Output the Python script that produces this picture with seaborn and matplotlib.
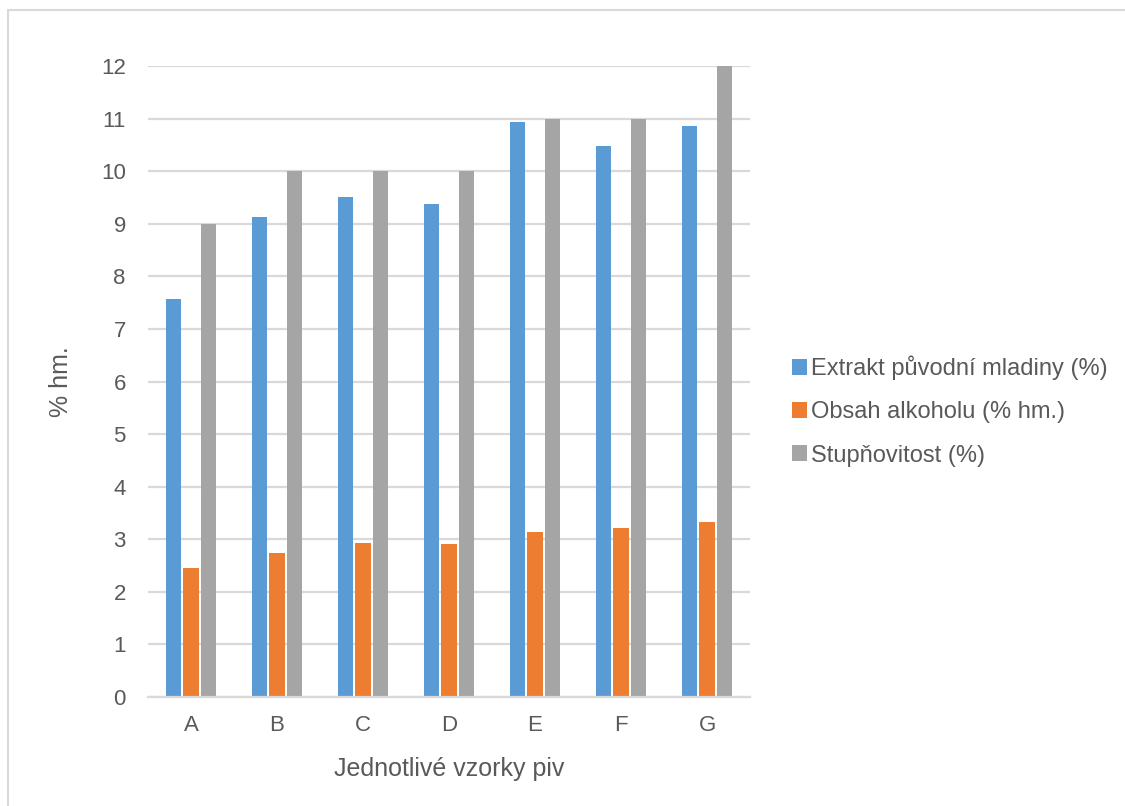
import numpy as np
import pandas as pd
import matplotlib
matplotlib.use("Agg")
import matplotlib.pyplot as plt
from matplotlib.patches import Patch
from matplotlib.lines import Line2D
import seaborn as sns

# Samples and measured values
samples = ["A", "B", "C", "D", "E", "F", "G"]
extrakt = [7.57, 9.13, 9.51, 9.38, 10.94, 10.48, 10.86]
alkohol = [2.46, 2.74, 2.93, 2.91, 3.14, 3.22, 3.32]
stupnovitost = [9, 10, 10, 10, 11, 11, 12]

series_names = ["Extrakt původní mladiny (%)", "Obsah alkoholu (% hm.)", "Stupňovitost (%)"]
colors = ["#5B9BD5", "#ED7D31", "#A5A5A5"]
y_ticks = list(range(0, 13))

df = pd.DataFrame({
    "vzorek": samples * 3,
    "hodnota": extrakt + alkohol + stupnovitost,
    "serie": [series_names[0]] * 7 + [series_names[1]] * 7 + [series_names[2]] * 7,
})

sns.set_theme(style="white")
plt.rcParams["font.family"] = ["Liberation Sans", "DejaVu Sans"]
text_color = "#595959"
grid_color = "#D9D9D9"

W, H = 1125, 806
fig = plt.figure(figsize=(W / 100, H / 100), dpi=100)
ax = fig.add_axes([148 / W, 1 - 697 / H, (750 - 148) / W, (697 - 66) / H])

sns.barplot(
    data=df, x="vzorek", y="hodnota", hue="serie",
    order=samples, hue_order=series_names, palette=colors,
    saturation=1, width=0.616, gap=0.15, linewidth=0,
    errorbar=None, legend=False, ax=ax,
)

ax.set_ylim(0, 12)
ax.set_xlim(-0.5, len(samples) - 0.5)
ax.set_yticks(y_ticks)
ax.set_yticklabels([str(t) for t in y_ticks])
ax.yaxis.grid(True, color=grid_color, linewidth=1.6)
ax.xaxis.grid(False)
ax.set_axisbelow(True)
for side in ["top", "right", "left"]:
    ax.spines[side].set_visible(False)
ax.spines["bottom"].set_color(grid_color)
ax.spines["bottom"].set_linewidth(1.6)
ax.tick_params(axis="both", length=0, colors=text_color, labelsize=16)
ax.tick_params(axis="y", pad=16)
ax.tick_params(axis="x", pad=13)

ax.set_xlabel("Jednotlivé vzorky piv", fontsize=18, color=text_color, labelpad=15)
ax.set_ylabel("% hm.", fontsize=18, color=text_color, labelpad=20)

handles = [Patch(facecolor=c, edgecolor="none") for c in colors]
fig.legend(
    handles, series_names, loc="center left",
    bbox_to_anchor=(792 / W, 1 - 411 / H), frameon=False,
    fontsize=17, handlelength=0.65, handleheight=0.65,
    handletextpad=0.15, labelspacing=0.9, labelcolor=text_color,
    borderpad=0, borderaxespad=0,
)

# Chart frame
fig.add_artist(Line2D([8 / W, 8 / W], [0, 1 - 10 / H], transform=fig.transFigure,
                      color=grid_color, linewidth=1.5))
fig.add_artist(Line2D([8 / W, 1], [1 - 10 / H, 1 - 10 / H], transform=fig.transFigure,
                      color=grid_color, linewidth=1.5))

fig.savefig("out.png", dpi=100, facecolor="white")
